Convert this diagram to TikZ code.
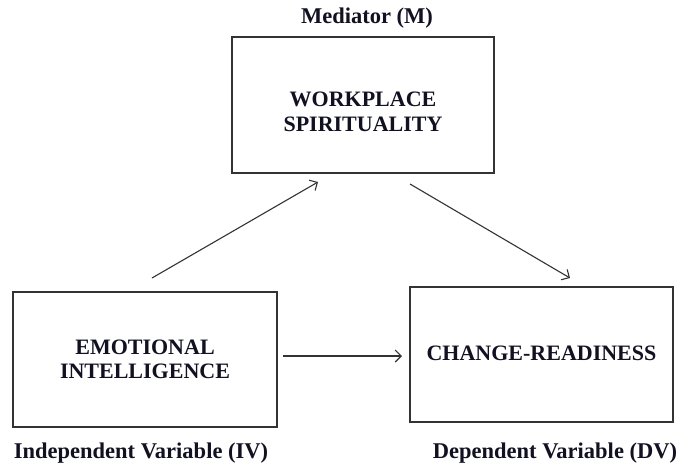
\documentclass[tikz,border=0pt]{standalone}
\usepackage{fontspec}
\setmainfont{Liberation Serif}
\usetikzlibrary{arrows.meta}
\definecolor{linec}{HTML}{333333}
\definecolor{textc}{HTML}{111122}
\tikzset{
  varbox/.style={draw=linec, line width=1.3pt, rectangle, inner sep=0pt, align=center,
    font=\fontsize{22}{24.5}\selectfont\bfseries, text=textc},
  lbl/.style={inner sep=0pt, font=\fontsize{22.5}{26}\selectfont\bfseries, text=textc},
  conn/.style={draw=linec, line width=1.1pt, -{Straight Barb[length=6pt,width=12pt,line width=1.1pt]}}
}
\begin{document}
\begin{tikzpicture}[x=1pt,y=-1pt]
\useasboundingbox[fill=white] (0,0) rectangle (678,469);
\node[varbox, minimum width=262pt, minimum height=136pt] (ws) at (363,105) {\raisebox{-14.5pt}[0pt][0pt]{\begin{tabular}[c]{@{}c@{}}WORKPLACE\\[0pt]SPIRITUALITY\end{tabular}}};
\node[varbox, minimum width=264pt, minimum height=135pt] (ei) at (145,359.5) {EMOTIONAL\\INTELLIGENCE};
\node[varbox, minimum width=263pt, minimum height=135pt] (cr) at (541.5,354.5) {\raisebox{2pt}{CHANGE-READINESS}};
\node[lbl] (med) at (367,18) {Mediator (M)};
\node[lbl] (iv) at (141,453) {Independent Variable (IV)};
\node[lbl] (dv) at (555,453) {Dependent Variable (DV)};
\coordinate (a1s) at (152,278);
\coordinate (a1e) at (318,182);
\coordinate (a2s) at (410,184);
\coordinate (a2e) at (570,278);
\coordinate (a3s) at (283,356);
\coordinate (a3e) at (402,356);
\draw[conn] (a1s) -- (a1e);
\draw[conn] (a2s) -- (a2e);
\draw[conn] (a3s) -- (a3e);
\end{tikzpicture}
\end{document}
